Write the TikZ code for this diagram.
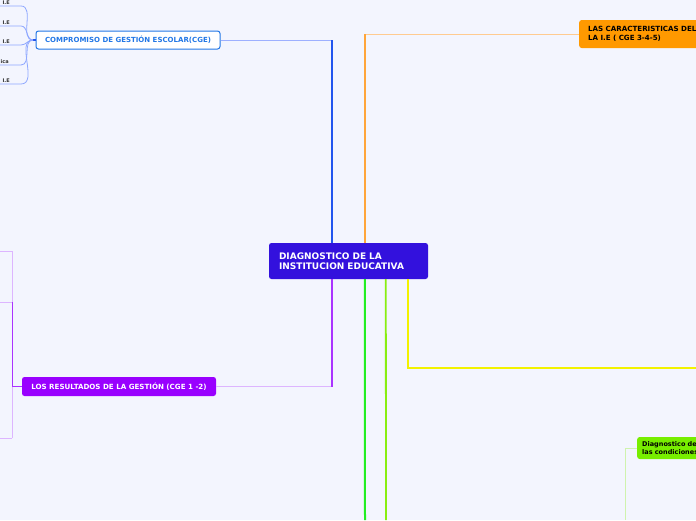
\documentclass[tikz,border=0pt]{standalone}
\usepackage{fontspec}
\setmainfont{DejaVu Sans}[BoldFont=DejaVu Sans Bold]
\definecolor{bg}{HTML}{F3F5FE}
\definecolor{mainc}{HTML}{3311DD}
\definecolor{cgeb}{HTML}{2277E6}
\definecolor{cgel}{HTML}{2255EE}
\definecolor{cgell}{HTML}{9DB0FF}
\definecolor{orn}{HTML}{FF9900}
\definecolor{ornl}{HTML}{FFA53A}
\definecolor{ornll}{HTML}{FFCB90}
\definecolor{pur}{HTML}{9900FF}
\definecolor{purl}{HTML}{AA33FF}
\definecolor{purll}{HTML}{DDB5FF}
\definecolor{grn}{HTML}{22EE22}
\definecolor{lime}{HTML}{88EE11}
\definecolor{yel}{HTML}{F2F200}
\definecolor{gnode}{HTML}{77EE00}
\definecolor{gll}{HTML}{CFF3AE}
\definecolor{leafl}{HTML}{8FA8FF}
\begin{document}
\begin{tikzpicture}[x=1pt,y=-1pt,
  box/.style={rounded corners=2.5pt,inner ysep=0pt},
  leaf/.style={font=\bfseries\fontsize{5}{6}\selectfont,inner sep=0pt,text=black!80},
]
\clip (0,0) rectangle (696,520);
\fill[bg] (0,0) rectangle (696,520);
% central
\node[box,fill=mainc,text=white,minimum width=159pt,minimum height=36pt,
  text width=139pt,align=left,font=\bfseries\fontsize{9}{10.5}\selectfont] (c) at (348.5,261)
  {DIAGNOSTICO DE LA\\INSTITUCION EDUCATIVA};
% CGE
\node[box,fill=white,draw=cgeb,line width=1pt,text=cgeb,minimum width=184pt,minimum height=18pt,
  font=\bfseries\fontsize{7}{8}\selectfont] (cge) at (128,40)
  {COMPROMISO DE GESTIÓN ESCOLAR(CGE)};
% orange
\node[box,fill=orn,text=black,minimum width=140pt,minimum height=28pt,anchor=west,
  text width=122pt,align=left,font=\bfseries\fontsize{7.1}{8.5}\selectfont] (or) at (579,34)
  {LAS CARACTERISTICAS DEL\\LA I.E ( CGE 3-4-5)};
% purple
\node[box,fill=pur,text=white,minimum width=194pt,minimum height=19pt,
  font=\bfseries\fontsize{7.1}{8}\selectfont] (pu) at (119,386.5)
  {LOS RESULTADOS DE LA GESTIÓN (CGE 1 -2)};
% green node
\node[box,fill=gnode,text=black,minimum width=90pt,minimum height=22pt,anchor=west,
  text width=80pt,align=left,font=\bfseries\fontsize{6.5}{8.5}\selectfont] (gn) at (637,448)
  {Diagnostico de\\las condiciones};
% connectors from central
\draw[cgell,line width=1pt] ([xshift=63pt]c.north west) |- (cge.east);
\draw[cgel,line width=2pt] ([xshift=63pt]c.north west) -- ([xshift=63pt]c.north west |- cge.east);
\draw[ornll,line width=1pt] ([xshift=96pt]c.north west) |- (or.west);
\draw[ornl,line width=1.8pt] ([xshift=96pt]c.north west) -- ([xshift=96pt]c.north west |- or.west);
\draw[purll,line width=1pt] ([xshift=63pt]c.south west) |- (pu.east);
\draw[purl,line width=1.8pt] ([xshift=63pt]c.south west) -- ([xshift=63pt]c.south west |- pu.east);
\coordinate (gend) at (365,520);
\coordinate (lend) at (386,520);
\coordinate (yend) at (696,368);
\draw[grn,line width=2pt] ([xshift=96pt]c.south west) -- (gend);
\draw[lime,line width=1.8pt] ([xshift=117pt]c.south west) -- (lend);
\draw[yel,line width=1.5pt] ([xshift=139pt]c.south west) |- (yend);
% green node branch
\coordinate (gb) at (625,520);
\draw[gll,line width=1pt] (gn.west) -| (gb);
% CGE leaves
\node[leaf,anchor=south east] (l1) at (10,4.5) {I.E};
\node[leaf,anchor=south east] (l2) at (10,24.5) {I.E};
\node[leaf,anchor=south east] (l3) at (10,43.5) {I.E};
\node[leaf,anchor=south east] (l4) at (9,63.5) {ica};
\node[leaf,anchor=south east] (l5) at (10,82.5) {I.E};
\coordinate (j) at (33,40);
\draw[cgel,line width=1.2pt] (cge.west) -- (j);
\foreach \y in {6,26,45,65,84}{
  \draw[leafl,line width=0.8pt] (j) to[out=180,in=0] (21,\y) -- (0,\y);
}
% purple leaves
\coordinate (pj) at (12,386.5);
\coordinate (pt) at (12,251);
\coordinate (pm) at (12,302);
\coordinate (pb) at (12,438);
\draw[purl,line width=1pt] (pu.west) -- (pj);
\draw[purll,line width=1pt] (pt) -- (pb);
\draw[purl,line width=1pt] (pm) -- (pj);
\draw[purll,line width=1pt] (pt) -- (0,251);
\draw[purll,line width=1pt] (pm) -- (0,302);
\draw[purll,line width=1pt] (pb) -- (0,438);
\end{tikzpicture}
\end{document}
